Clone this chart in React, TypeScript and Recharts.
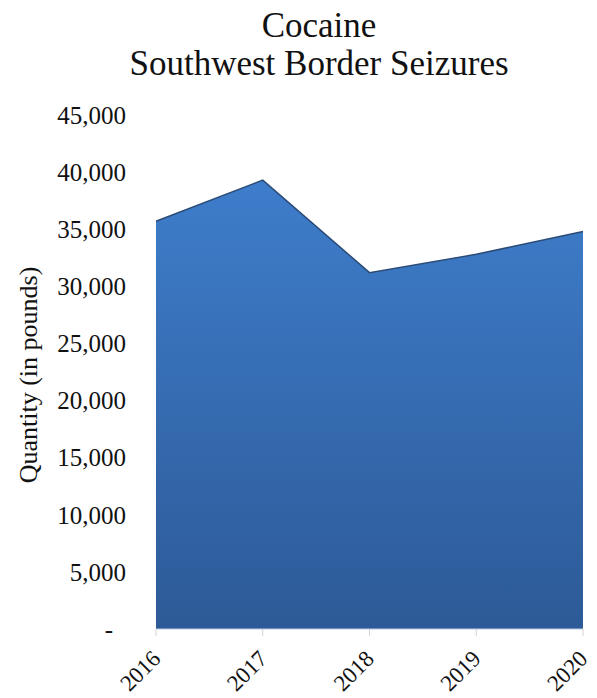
import React from "react";
import { AreaChart, Area, XAxis, YAxis } from "recharts";

// Southwest border cocaine seizures, pounds per fiscal year
const years = ["2016", "2017", "2018", "2019", "2020"];
const pounds = [35700, 39300, 31200, 32800, 34800];
const yTicks = [0, 5000, 10000, 15000, 20000, 25000, 30000, 35000, 40000, 45000];

const titleLines = ["Cocaine", "Southwest Border Seizures"];
const yAxisTitle = "Quantity (in pounds)";

const data = years.map((year, i) => ({ year, pounds: pounds[i] }));

const FONT = "'Liberation Serif', 'Times New Roman', serif";
const W = 597;
const H = 698;

const fmt = (v: number) => (v === 0 ? "-" : v.toLocaleString("en-US"));

const YTick = (props: any) => {
  const { y, payload } = props;
  const v = payload.value as number;
  return (
    <text
      x={v === 0 ? 113 : 126}
      y={y}
      dy="0.35em"
      textAnchor="end"
      fontFamily={FONT}
      fontSize={25}
      fill="#111"
    >
      {fmt(v)}
    </text>
  );
};

const XTick = (props: any) => {
  const { x, payload } = props;
  const bx = x + 6;
  const by = 660;
  return (
    <text
      x={bx}
      y={by}
      textAnchor="end"
      transform={`rotate(-45, ${bx}, ${by})`}
      fontFamily={FONT}
      fontSize={23}
      fill="#111"
    >
      {payload.value}
    </text>
  );
};

export default function App() {
  return (
    <div
      style={{
        position: "absolute",
        left: 0,
        top: 0,
        width: W,
        height: H,
        background: "#fff",
      }}
    >
      <AreaChart
        width={W}
        height={H}
        data={data}
        margin={{ top: 115, right: 14, bottom: 0, left: 0 }}
      >
        <defs>
          <linearGradient id="areaFill" x1="0" y1="0" x2="0" y2="1">
            <stop offset="0%" stopColor="#3e7dcb" />
            <stop offset="100%" stopColor="#2d5a97" />
          </linearGradient>
        </defs>
        <XAxis
          dataKey="year"
          height={69}
          stroke="#b9cbe2"
          tickLine={{ stroke: "#d2d2d2" }}
          tickSize={7}
          interval={0}
          tick={<XTick />}
        />
        <YAxis
          width={156}
          domain={[0, 45000]}
          ticks={yTicks}
          interval={0}
          axisLine={false}
          tickLine={false}
          tick={<YTick />}
        />
        <Area
          type="linear"
          dataKey="pounds"
          stroke="#2b4b77"
          strokeWidth={1.5}
          fill="url(#areaFill)"
          fillOpacity={1}
          isAnimationActive={false}
          dot={false}
          activeDot={false}
        />
      </AreaChart>
      <svg
        width={W}
        height={H}
        style={{ position: "absolute", left: 0, top: 0, pointerEvents: "none" }}
      >
        <text x={319} y={37} textAnchor="middle" fontFamily={FONT} fontSize={35} fill="#111">
          {titleLines[0]}
        </text>
        <text x={319} y={75} textAnchor="middle" fontFamily={FONT} fontSize={35} fill="#111">
          {titleLines[1]}
        </text>
        <text
          x={37}
          y={375}
          textAnchor="middle"
          transform="rotate(-90, 37, 375)"
          fontFamily={FONT}
          fontSize={26}
          fill="#111"
        >
          {yAxisTitle}
        </text>
      </svg>
    </div>
  );
}
